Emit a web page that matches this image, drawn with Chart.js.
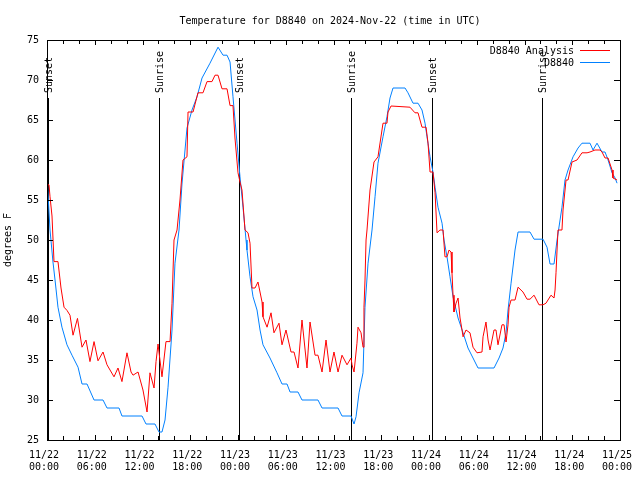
<!DOCTYPE html>
<html><head><meta charset="utf-8">
<script src="https://cdn.jsdelivr.net/npm/chart.js@4.4.0/dist/chart.umd.min.js"></script>
<style>html,body{margin:0;padding:0;background:#fff}</style>
</head><body>
<canvas id="c" width="640" height="480"></canvas>
<script>
// Hours since 2024-11-22 00:00 UTC
const analysisHours = [0,0.25,0.38,0.63,0.88,1.38,1.76,2.14,2.51,2.89,3.27,3.83,4.40,4.90,5.40,5.91,6.41,7.04,7.54,8.42,8.92,9.42,10.05,10.56,10.81,11.44,12.06,12.57,12.94,13.45,13.70,13.95,14.45,14.95,15.46,15.71,15.96,16.34,16.71,17.09,17.59,17.72,18.35,18.97,19.60,20.11,20.73,21.11,21.49,21.99,22.62,23.00,23.37,23.62,24.00,24.25,24.50,24.88,25.26,25.51,25.76,26.14,26.51,27.02,27.14,27.65,28.15,28.52,29.15,29.53,30.03,30.66,31.04,31.54,32.04,32.67,33.05,33.68,34.05,34.56,35.06,35.56,36.06,36.57,37.07,37.70,38.20,38.33,38.58,38.95,39.08,39.46,39.71,39.83,39.96,40.09,40.21,40.59,41.09,41.59,42.22,42.72,42.85,43.23,45.61,46.24,46.62,47.12,47.63,47.88,48.13,48.50,48.76,49.01,49.38,49.76,50.01,50.26,50.52,50.77,50.89,51.02,51.14,51.40,51.65,51.90,52.15,52.28,52.65,53.15,53.53,54.03,54.66,54.79,55.16,55.42,55.67,56.17,56.42,56.67,57.17,57.43,57.68,57.93,58.06,58.31,58.81,59.19,59.81,60.32,60.69,61.20,61.82,62.33,62.70,63.33,63.71,63.84,63.96,64.09,64.21,64.71,64.84,65.22,65.47,65.97,66.60,67.22,67.86,68.23,68.86,69.49,69.74,70.12,70.50,71.00,71.12,71.63];
const analysisTemps = [56.9,56.9,55.4,53,47.3,47.3,44,41.6,41.2,40.6,38.1,40.2,36.6,37.5,34.8,37.3,34.9,36.0,34.4,32.9,34,32.3,35.9,33.5,33.1,33.5,31.25,28.5,33.4,31.5,34.8,37,32.9,37.3,37.3,42.1,50,51.25,55,60,60.4,66,66,68.4,68.4,69.8,69.8,70.6,70.6,68.9,68.9,66.8,66.8,62.75,58.4,57.25,56.25,51.25,50.9,49.6,44,44,44.75,42.25,40.4,39.1,40.9,38.4,39.6,36.9,38.75,36,36,34,40,34,39.75,35.6,35.6,33.5,37.5,33.5,36,33.5,35.6,34.4,35.25,34.4,33.5,37.1,39.1,38.4,36.6,41.6,45,50,51.25,56.25,59.75,60.4,64.6,64.6,66,66.75,66.6,65.9,65.9,64.1,64.1,62.1,58.5,58.5,55.9,50.9,51.25,51.25,47.9,47.9,48.75,48.5,45.9,43.1,41,42.1,42.75,40.25,38.75,37.9,38.75,38.4,36.6,35.9,36,37.9,39.75,37.5,36.25,38.75,38.75,36.9,39.4,39.4,37.25,39.4,41.6,42.5,42.5,44.1,43.5,42.6,42.6,43.1,41.9,41.9,42.1,43.1,42.75,43.75,45.9,48.75,51.25,51.25,53.75,57.5,57.5,59.75,60,60.9,60.9,61,61.25,61.25,61,60.25,60.25,58.75,57.75,57.5];
const obsHours = [0,0.38,0.75,1.01,1.38,1.88,2.51,3.14,3.90,4.40,5.03,5.91,7.04,7.54,9.05,9.42,11.94,12.44,13.57,14.07,14.45,14.83,15.21,15.71,16.08,16.59,16.96,17.59,18.22,18.85,19.48,20.48,21.49,22.12,22.62,23.00,23.37,23.88,24.25,24.63,25.01,25.13,25.51,25.89,26.39,26.77,27.14,28.02,28.90,29.53,30.16,30.54,31.54,32.04,34.05,34.56,36.57,37.07,38.20,38.58,38.83,39.21,39.71,39.96,40.34,40.84,41.22,41.59,42.22,42.72,43.10,43.48,44.99,45.36,45.99,46.62,47.12,47.50,47.75,48.13,48.50,48.76,49.13,49.64,49.89,50.26,50.64,51.02,51.65,52.28,52.90,53.53,54.16,56.17,56.80,57.30,57.68,57.93,58.31,58.81,59.19,60.69,61.20,62.33,62.83,63.21,63.71,64.09,64.71,65.09,65.47,66.10,66.73,67.22,68.23,68.61,69.11,69.74,70.12,70.50,71.00,71.38,71.63];
const obsTemps = [58,51.25,47.25,45,41.6,39.1,36.9,35.6,34.1,32,32,30,30,29,29,28,28,27,27,26,26,27.5,31.6,38.75,47.1,51.25,57,64,66.25,67.9,70.25,72.1,74.1,73.1,73.1,72.25,67.9,62.1,57.9,54.1,50,48.75,45.4,42.9,41.25,38.75,36.9,35.25,33.4,32,32,31,31,30,30,29,29,28,28,27,27.9,30.9,33.4,41.6,47.1,51.25,55.4,59.6,62.9,65.4,67.75,69,69,68.4,67.1,67.1,66.25,64.6,62.9,60.4,58.5,56.6,54.1,52.1,50,47.9,45.4,42.9,40.25,38.4,36.5,35.25,34,34,35.25,36.5,38.4,41.25,44.6,48.75,51,51,50.1,50.1,49.1,47,47,50,54.1,57.5,58.75,60.4,61.5,62.1,62.1,61.25,62.1,61,61,60,58.4,57.75,57.1];
const eventHours = [0.1,14.07,24.17,38.2,48.33,62.24];
const eventLabels = ['Sunset','Sunrise','Sunset','Sunrise','Sunset','Sunrise'];
const xTickLabels = [['11/22','00:00'],['11/22','06:00'],['11/22','12:00'],['11/22','18:00'],['11/23','00:00'],['11/23','06:00'],['11/23','12:00'],['11/23','18:00'],['11/24','00:00'],['11/24','06:00'],['11/24','12:00'],['11/24','18:00'],['11/25','00:00']];
const seriesNames = ['D8840 Analysis','D8840'];
const titleText = 'Temperature for D8840 on 2024-Nov-22 (time in UTC)';
const yTitle = 'degrees F';

const FONT = "'DejaVu Sans Mono', monospace";
Chart.defaults.color = '#000';
Chart.defaults.font.family = FONT;
Chart.defaults.font.size = 10;

const toPts = (xs, ys) => xs.map((x, i) => ({x, y: ys[i]}));

const decor = {
  id: 'decor',
  beforeDatasetsDraw(chart) {
    const {ctx, chartArea: a, scales: {x}} = chart;
    ctx.save();
    ctx.strokeStyle = '#000'; ctx.lineWidth = 1;
    ctx.fillStyle = '#000';
    ctx.font = '10px ' + FONT;
    const lineTop = a.top + 0.145 * (a.bottom - a.top);
    eventHours.forEach((h, i) => {
      const px = Math.round(x.getPixelForValue(h)) + 0.5;
      ctx.beginPath(); ctx.moveTo(px, a.bottom); ctx.lineTo(px, lineTop); ctx.stroke();
      ctx.save();
      ctx.translate(px + 1, lineTop - 5);
      ctx.rotate(-Math.PI / 2);
      ctx.textAlign = 'left'; ctx.textBaseline = 'middle';
      ctx.fillText(eventLabels[i], 0, 0);
      ctx.restore();
    });
    ctx.restore();
  },
  afterDraw(chart) {
    const {ctx, chartArea: a, scales: {x, y}} = chart;
    ctx.save();
    ctx.strokeStyle = '#000'; ctx.lineWidth = 1;
    ctx.strokeRect(Math.round(a.left) + 0.5, Math.round(a.top) + 0.5, Math.round(a.right - a.left), Math.round(a.bottom - a.top));
    ctx.beginPath();
    for (let h = 0; h <= 72; h += 2) {
      const px = Math.round(x.getPixelForValue(h)) + 0.5;
      const len = (h % 6 === 0) ? 5 : 4;
      ctx.moveTo(px, a.bottom); ctx.lineTo(px, a.bottom - len);
      ctx.moveTo(px, a.top); ctx.lineTo(px, a.top + len);
    }
    for (let v = 25; v <= 75; v += 5) {
      const py = Math.round(y.getPixelForValue(v)) + 0.5;
      ctx.moveTo(a.left, py); ctx.lineTo(a.left + 6, py);
      ctx.moveTo(a.right, py); ctx.lineTo(a.right - 6, py);
    }
    ctx.stroke();
    // title
    ctx.fillStyle = '#000';
    ctx.font = '10px ' + FONT;
    ctx.textAlign = 'center'; ctx.textBaseline = 'middle';
    ctx.fillText(titleText, 330, 21);
    // legend
    const colors = ['#ff0000', '#0080ff'];
    ctx.textAlign = 'right';
    seriesNames.forEach((n, i) => {
      const ly = 51 + i * 12;
      ctx.fillStyle = '#000';
      ctx.fillText(n, 574, ly);
      ctx.strokeStyle = colors[i];
      ctx.beginPath(); ctx.moveTo(580, ly - 0.5); ctx.lineTo(610, ly - 0.5); ctx.stroke();
    });
    ctx.restore();
  }
};

new Chart(document.getElementById('c'), {
  type: 'line',
  data: {
    datasets: [
      {label: seriesNames[0], data: toPts(analysisHours, analysisTemps), borderColor: '#ff0000', borderWidth: 1, pointRadius: 0, tension: 0},
      {label: seriesNames[1], data: toPts(obsHours, obsTemps), borderColor: '#0080ff', borderWidth: 1, pointRadius: 0, tension: 0}
    ]
  },
  options: {
    responsive: false,
    animation: false,
    devicePixelRatio: 1,
    layout: {padding: {top: 40, right: 20, left: 0, bottom: 0}},
    plugins: {legend: {display: false}, title: {display: false}, tooltip: {enabled: false}},
    scales: {
      x: {
        type: 'linear', min: 0, max: 72,
        grid: {display: false, drawTicks: false},
        border: {display: false},
        afterFit: s => { s.height = 40; s.paddingLeft = 0; s.paddingRight = 0; },
        ticks: {
          stepSize: 2, autoSkip: false, maxRotation: 0, minRotation: 0, padding: 9,
          labelOffset: -3,
          font: {size: 10, lineHeight: 1.2},
          callback: v => (v % 6 === 0) ? xTickLabels[v / 6] : null
        }
      },
      y: {
        min: 25, max: 75,
        grid: {display: false, drawTicks: false},
        border: {display: false},
        afterFit: s => { s.width = 47; s.paddingTop = 0; s.paddingBottom = 0; },
        ticks: {stepSize: 5, padding: 8, font: {size: 10}},
        title: {display: true, text: yTitle, font: {size: 10}, padding: {top: 2, bottom: 0}}
      }
    }
  },
  plugins: [decor]
});
</script>
</body></html>
